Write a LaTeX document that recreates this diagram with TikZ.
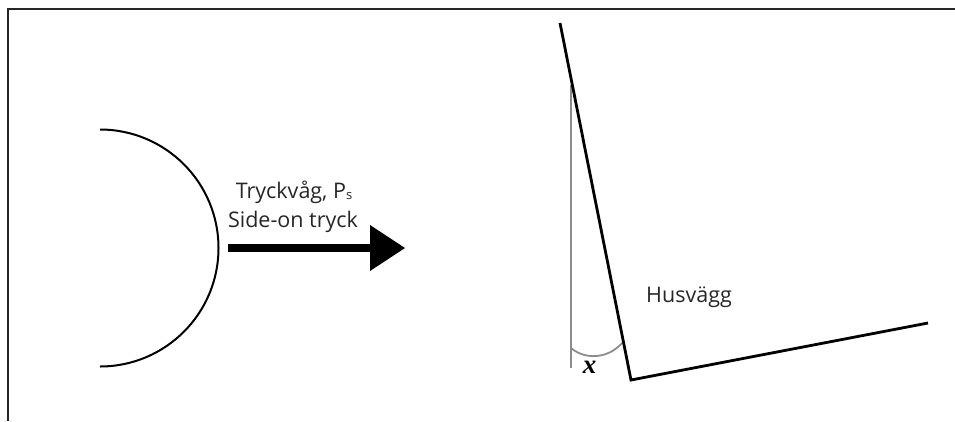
\documentclass[tikz,border=0pt]{standalone}
\usepackage{fontspec}
\setmainfont{Open Sans}
\newfontfamily\xfont{Liberation Serif}
\usetikzlibrary{arrows.meta}
\begin{document}
\begin{tikzpicture}[x=1pt,y=-1pt,
  frame/.style={line width=2pt,draw=black!85},
  wall/.style={line width=2.8pt,draw=black,line join=miter},
  helper/.style={line width=1.8pt,draw=black!45},
  lbl/.style={font=\fontsize{21.5}{24}\selectfont,text=black!85,inner sep=0pt,anchor=base}]
\useasboundingbox (0,0) rectangle (955,421);
% frame
\draw[frame] (955,9) -- (8,9) -- (8,421);
% semicircle
\draw[line width=2pt] (100,129.5) arc[start angle=-90,end angle=90,radius=118.5];
% arrow
\draw[line width=7.5pt] (228,248) -- (378,248);
\fill (370,225) -- (405,248) -- (370,271) -- cycle;
\node[lbl] (t1) at (294,198) {Tryckvåg, P\raisebox{-0.1ex}{\fontsize{13}{15}\selectfont s}};
\node[lbl] (t2) at (293,227) {Side-on tryck};
% helper vertical and angle arc
\coordinate (vt) at (571,85);
\coordinate (vb) at (571,368);
\draw[helper] (vt) -- (vb);
\draw[helper] (571,348) .. controls (585,360) and (608,359) .. (622,343);
\node[inner sep=0pt,anchor=base] (x) at (589.5,373) {\xfont\bfseries\itshape\fontsize{27}{29}\selectfont x};
% wall
\coordinate (w1) at (560,23);
\coordinate (w2) at (631,380);
\coordinate (w3) at (928,323);
\draw[wall] (w1) -- (w2) -- (w3);
\node[lbl] (hus) at (689,302) {Husvägg};
\end{tikzpicture}
\end{document}
